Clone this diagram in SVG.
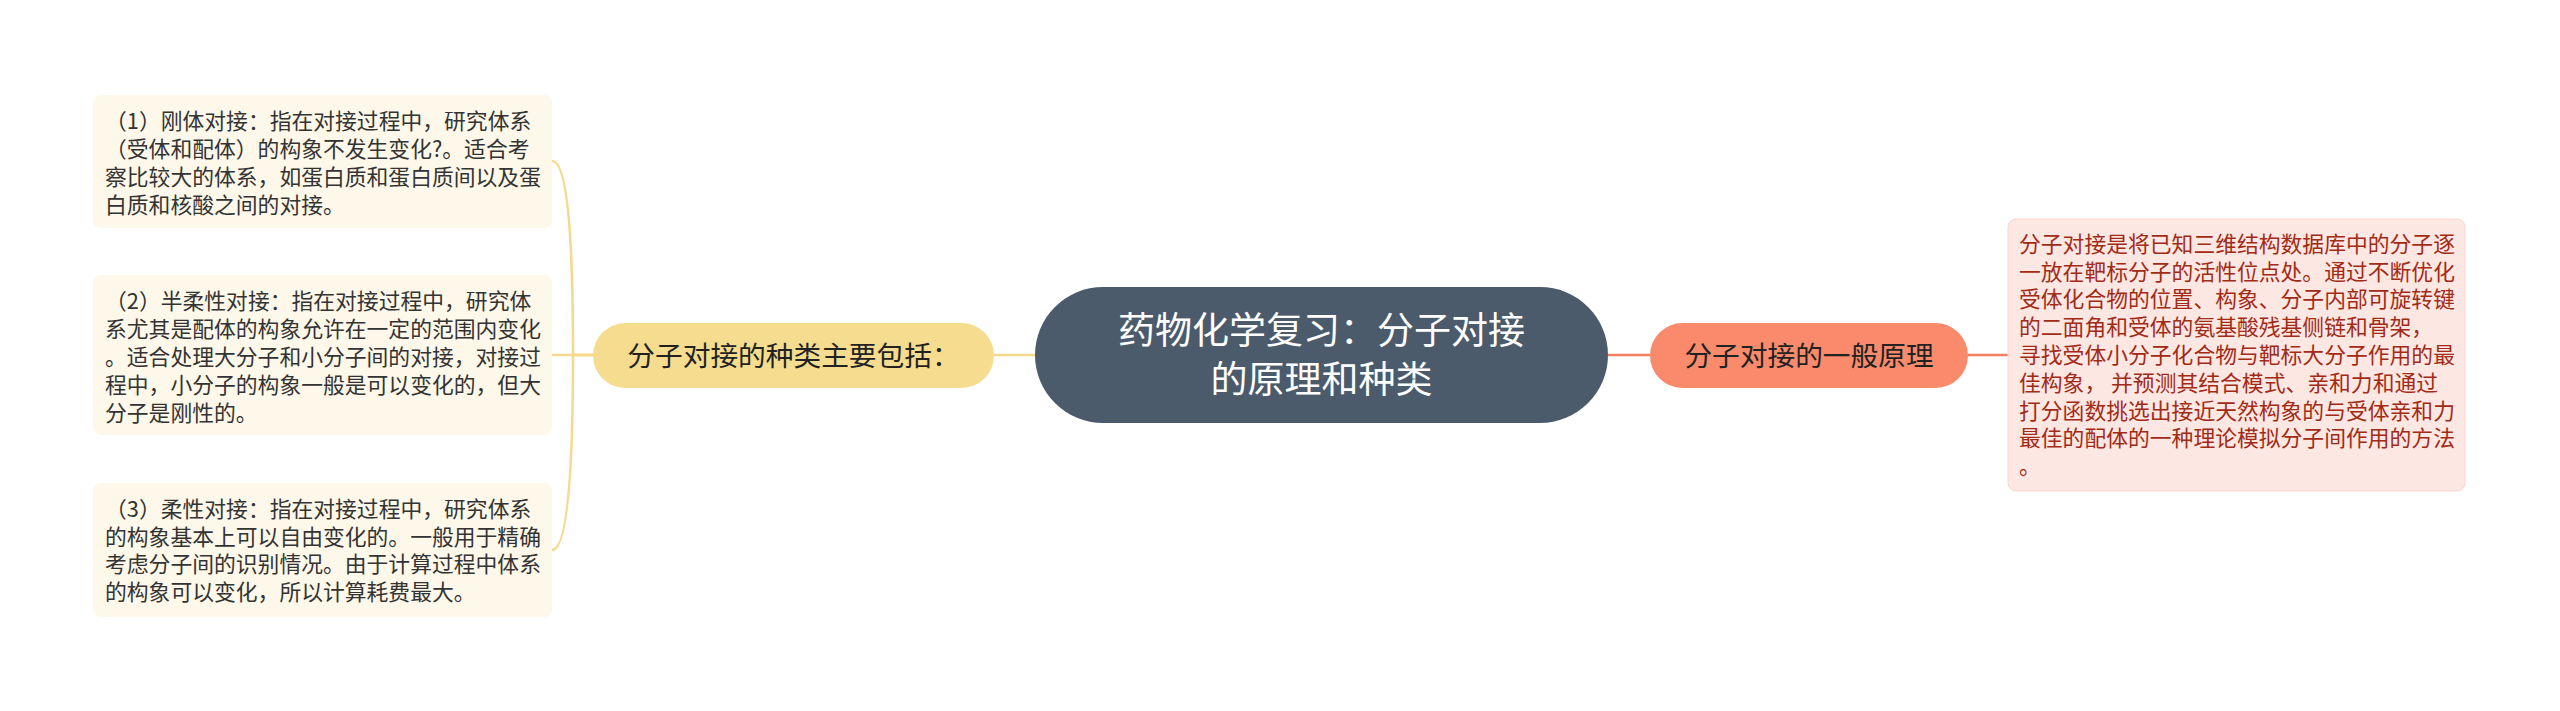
<svg xmlns="http://www.w3.org/2000/svg" width="2560" height="711" viewBox="0 0 2560 711">
<style>
.t{font-family:"Noto Sans CJK SC","Noto Sans",sans-serif;}
.leaf{fill:#fdf8e9;}
.lt{font-size:21.8px;fill:#333333;}
.rt{font-size:21.8px;fill:#a12b17;}
.cy{fill:none;stroke:#f5d98c;stroke-width:2.6;}
.co{fill:none;stroke:#f4805f;stroke-width:2.6;}
</style>
<rect width="2560" height="711" fill="#ffffff"/>
<g id="connectors">
<path class="cy" d="M1035 355 H994"/>
<path class="cy" d="M593 355 H552"/>
<path class="cy" d="M593 355 H573 Q573 161 552 161"/>
<path class="cy" d="M593 355 H573 Q573 550 552 550"/>
<path class="co" d="M1608 355 H1650"/>
<path class="co" d="M1968 355 H2008"/>
</g>
<g id="central">
<rect x="1035" y="287" width="573" height="136" rx="68" fill="#4c5b6b"/>
<text class="t" x="1321.5" y="344" font-size="37" fill="#ffffff" text-anchor="middle">药物化学复习：分子对接</text>
<text class="t" x="1321.5" y="393" font-size="37" fill="#ffffff" text-anchor="middle">的原理和种类</text>
</g>
<g id="types">
<rect x="593" y="323" width="401" height="65" rx="32.5" fill="#f6dc8e"/>
<text class="t" x="793.5" y="365.5" font-size="27.7" fill="#222222" text-anchor="middle">分子对接的种类主要包括：</text>
</g>
<g id="rigid">
<rect class="leaf" x="93" y="95" width="459" height="133" rx="8"/>
<text class="t lt" x="105" y="129.3">（1）刚体对接：指在对接过程中，研究体系</text>
<text class="t lt" x="105" y="157.1">（受体和配体）的构象不发生变化?。适合考</text>
<text class="t lt" x="105" y="184.9">察比较大的体系，如蛋白质和蛋白质间以及蛋</text>
<text class="t lt" x="105" y="212.7">白质和核酸之间的对接。</text>
</g>
<g id="semiflexible">
<rect class="leaf" x="93" y="275" width="459" height="160" rx="8"/>
<text class="t lt" x="105" y="309.3">（2）半柔性对接：指在对接过程中，研究体</text>
<text class="t lt" x="105" y="337.1">系尤其是配体的构象允许在一定的范围内变化</text>
<text class="t lt" x="105" y="364.9">。适合处理大分子和小分子间的对接，对接过</text>
<text class="t lt" x="105" y="392.7">程中，小分子的构象一般是可以变化的，但大</text>
<text class="t lt" x="105" y="420.5">分子是刚性的。</text>
</g>
<g id="flexible">
<rect class="leaf" x="93" y="483" width="459" height="134" rx="8"/>
<text class="t lt" x="105" y="516.8">（3）柔性对接：指在对接过程中，研究体系</text>
<text class="t lt" x="105" y="544.6">的构象基本上可以自由变化的。一般用于精确</text>
<text class="t lt" x="105" y="572.4">考虑分子间的识别情况。由于计算过程中体系</text>
<text class="t lt" x="105" y="600.2">的构象可以变化，所以计算耗费最大。</text>
</g>
<g id="principle">
<rect x="1650" y="323" width="318" height="65" rx="32.5" fill="#f98a6c"/>
<text class="t" x="1809" y="365.5" font-size="27.7" fill="#222222" text-anchor="middle">分子对接的一般原理</text>
</g>
<g id="principle-detail">
<rect x="2008" y="219" width="457" height="272" rx="8" fill="#fde7e2" stroke="#fbd5cb" stroke-width="1"/>
<text class="t rt" x="2019" y="251.8">分子对接是将已知三维结构数据库中的分子逐</text>
<text class="t rt" x="2019" y="279.6">一放在靶标分子的活性位点处。通过不断优化</text>
<text class="t rt" x="2019" y="307.4">受体化合物的位置、构象、分子内部可旋转键</text>
<text class="t rt" x="2019" y="335.2">的二面角和受体的氨基酸残基侧链和骨架，</text>
<text class="t rt" x="2019" y="363.0">寻找受体小分子化合物与靶标大分子作用的最</text>
<text class="t rt" x="2019" y="390.8">佳构象， 并预测其结合模式、亲和力和通过</text>
<text class="t rt" x="2019" y="418.6">打分函数挑选出接近天然构象的与受体亲和力</text>
<text class="t rt" x="2019" y="446.4">最佳的配体的一种理论模拟分子间作用的方法</text>
<text class="t rt" x="2019" y="474.2">。</text>
</g>
</svg>
